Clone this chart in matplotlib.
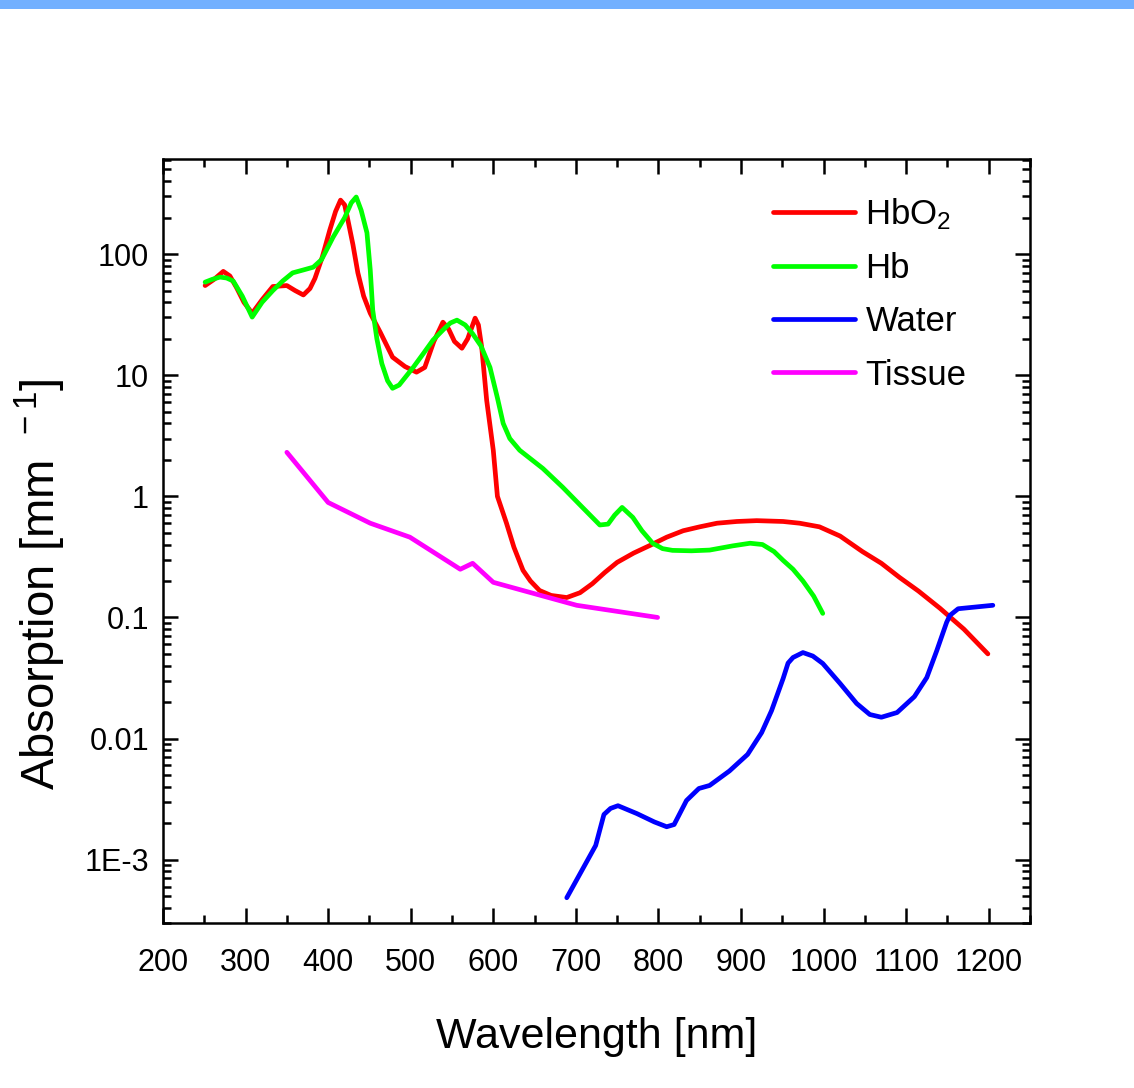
import matplotlib
matplotlib.use("Agg")
import matplotlib.pyplot as plt
from matplotlib.patches import Rectangle
from matplotlib.ticker import FixedLocator, FixedFormatter, LogLocator, MultipleLocator, NullFormatter

# values (wavelength in nm, absorption in mm^-1)
hbo2_wl = [251, 262, 273, 281, 289, 298, 308, 320, 333, 350, 360, 370, 378, 384, 393,
           402, 409, 415, 420, 424, 430, 436, 443, 451, 463, 478, 493, 507, 517, 528,
           539, 546, 553, 562, 569, 578, 582, 586, 592, 600, 605, 616, 625, 636, 645,
           656, 670, 689, 705, 720, 735, 750, 770, 790, 810, 830, 850, 871, 895, 919,
           951, 971, 995, 1020, 1047, 1070, 1092, 1115, 1141, 1170, 1199]
hbo2_abs = [55, 62, 72, 66, 53, 40, 32.5, 42, 54, 55, 50, 46, 52, 63, 95,
            158, 225, 279, 255, 190, 120, 70, 45, 32.5, 22.7, 14.1, 11.8, 10.6, 11.6, 19,
            27.4, 24, 19, 16.7, 20, 29.6, 26, 17, 6.2, 2.4, 1.0, 0.6, 0.38, 0.245, 0.2,
            0.167, 0.152, 0.146, 0.16, 0.19, 0.235, 0.285, 0.34, 0.394, 0.46, 0.52, 0.56, 0.6, 0.62, 0.63,
            0.62, 0.6, 0.56, 0.47, 0.35, 0.28, 0.214, 0.165, 0.119, 0.08, 0.05]

hb_wl = [251, 260, 269, 277, 285, 296, 308, 320, 333, 345, 357, 370, 382, 392, 406,
         420, 428, 434, 440, 447, 451, 454, 459, 465, 472, 478, 486, 503, 515, 527,
         540, 548, 556, 566, 575, 585, 596, 605, 612, 620, 632, 660, 684, 705, 729,
         739, 747, 756, 769, 780, 793, 805, 817, 840, 862, 890, 911, 926, 940, 951,
         963, 975, 988, 999]
hb_abs = [58.7, 62, 64.6, 63.5, 60, 45, 30.2, 40, 50, 60, 70, 74, 78, 90, 138,
          200, 265, 296, 230, 150, 74, 34.5, 20, 12.5, 9, 7.8, 8.3, 11.6, 15, 19.5,
          24, 27, 28.5, 26, 22, 17.5, 11.6, 6.5, 4.0, 3.0, 2.4, 1.7, 1.19, 0.85, 0.58,
          0.59, 0.7, 0.81, 0.67, 0.52, 0.41, 0.37, 0.358, 0.355, 0.36, 0.39, 0.41, 0.40, 0.35, 0.296,
          0.25, 0.2, 0.15, 0.108]

water_wl = [689, 724, 734, 742, 751, 774, 795, 810, 819, 834, 849, 862, 886, 908, 925,
            937, 951, 957, 963, 975, 987, 999, 1020, 1040, 1056, 1070, 1089, 1110, 1125, 1137,
            1149, 1153, 1163, 1205]
water_abs = [4.85e-4, 1.31e-3, 2.36e-3, 2.65e-3, 2.79e-3, 2.4e-3, 2.05e-3, 1.87e-3, 1.95e-3, 3.08e-3,
             3.87e-3, 4.1e-3, 5.4e-3, 7.4e-3, 1.12e-2, 1.7e-2, 3.13e-2, 4.2e-2, 4.67e-2, 5.13e-2,
             4.8e-2, 4.17e-2, 2.85e-2, 1.95e-2, 1.58e-2, 1.5e-2, 1.64e-2, 2.22e-2, 3.19e-2, 5.3e-2,
             9.1e-2, 0.104, 0.118, 0.126]

tissue_wl = [350, 400, 451, 499, 560, 575, 600, 701, 799]
tissue_abs = [2.31, 0.89, 0.6, 0.46, 0.25, 0.28, 0.195, 0.126, 0.1]

series_names = ["HbO$_2$", "Hb", "Water", "Tissue"]
series_colors = ["#ff0000", "#00ff00", "#0000ff", "#ff00ff"]

x_ticks = [200, 300, 400, 500, 600, 700, 800, 900, 1000, 1100, 1200]
y_ticks = [1e-3, 1e-2, 1e-1, 1, 10, 100]
y_tick_labels = ["1E-3", "0.01", "0.1", "1", "10", "100"]

FONT = ["Liberation Sans", "DejaVu Sans"]


def main():
    plt.rcParams["font.family"] = FONT
    plt.rcParams["mathtext.fontset"] = "custom"
    plt.rcParams["mathtext.rm"] = "Liberation Sans"
    plt.rcParams["mathtext.it"] = "Liberation Sans"

    fig = plt.figure(figsize=(11.34, 10.88), dpi=100)
    fig.patches.append(Rectangle((0, 1 - 9 / 1088), 1, 9 / 1088, transform=fig.transFigure,
                                 facecolor="#72b0ff", edgecolor="none"))
    ax = fig.add_axes([163 / 1134, 1 - 923 / 1088, (1030 - 163) / 1134, (923 - 159) / 1088])

    data = [(hbo2_wl, hbo2_abs), (hb_wl, hb_abs), (water_wl, water_abs), (tissue_wl, tissue_abs)]
    for (wl, ab), name, col in zip(data, series_names, series_colors):
        ax.plot(wl, ab, color=col, lw=3.4, label=name,
                solid_capstyle="round", solid_joinstyle="round")

    ax.set_yscale("log")
    ax.set_xlim(200, 1250)
    ax.set_ylim(3e-4, 610)

    ax.xaxis.set_major_locator(FixedLocator(x_ticks))
    ax.xaxis.set_minor_locator(MultipleLocator(50))
    ax.yaxis.set_major_locator(FixedLocator(y_ticks))
    ax.yaxis.set_major_formatter(FixedFormatter(y_tick_labels))
    ax.yaxis.set_minor_locator(LogLocator(base=10, subs=range(2, 10)))
    ax.yaxis.set_minor_formatter(NullFormatter())

    ax.tick_params(which="both", direction="in", top=True, right=True, width=1.8)
    ax.tick_params(which="major", length=11, labelsize=22)
    ax.tick_params(which="minor", length=6)
    ax.tick_params(axis="x", pad=18)
    ax.tick_params(axis="y", pad=10)
    for s in ax.spines.values():
        s.set_linewidth(1.8)

    ax.set_xlabel("Wavelength [nm]", fontsize=31, labelpad=28)
    ax.set_ylabel("Absorption [mm$^{\\ \\ -1}$]", fontsize=34)
    ax.yaxis.set_label_coords(-0.11, 0.443)

    ax.legend(loc="upper left", bbox_to_anchor=(0.7036, 0.951), frameon=False, fontsize=25,
              borderpad=0, borderaxespad=0, handlelength=2.36, handletextpad=0.3,
              labelspacing=0.58)

    fig.savefig("out.png", dpi=100)


if __name__ == "__main__":
    main()
